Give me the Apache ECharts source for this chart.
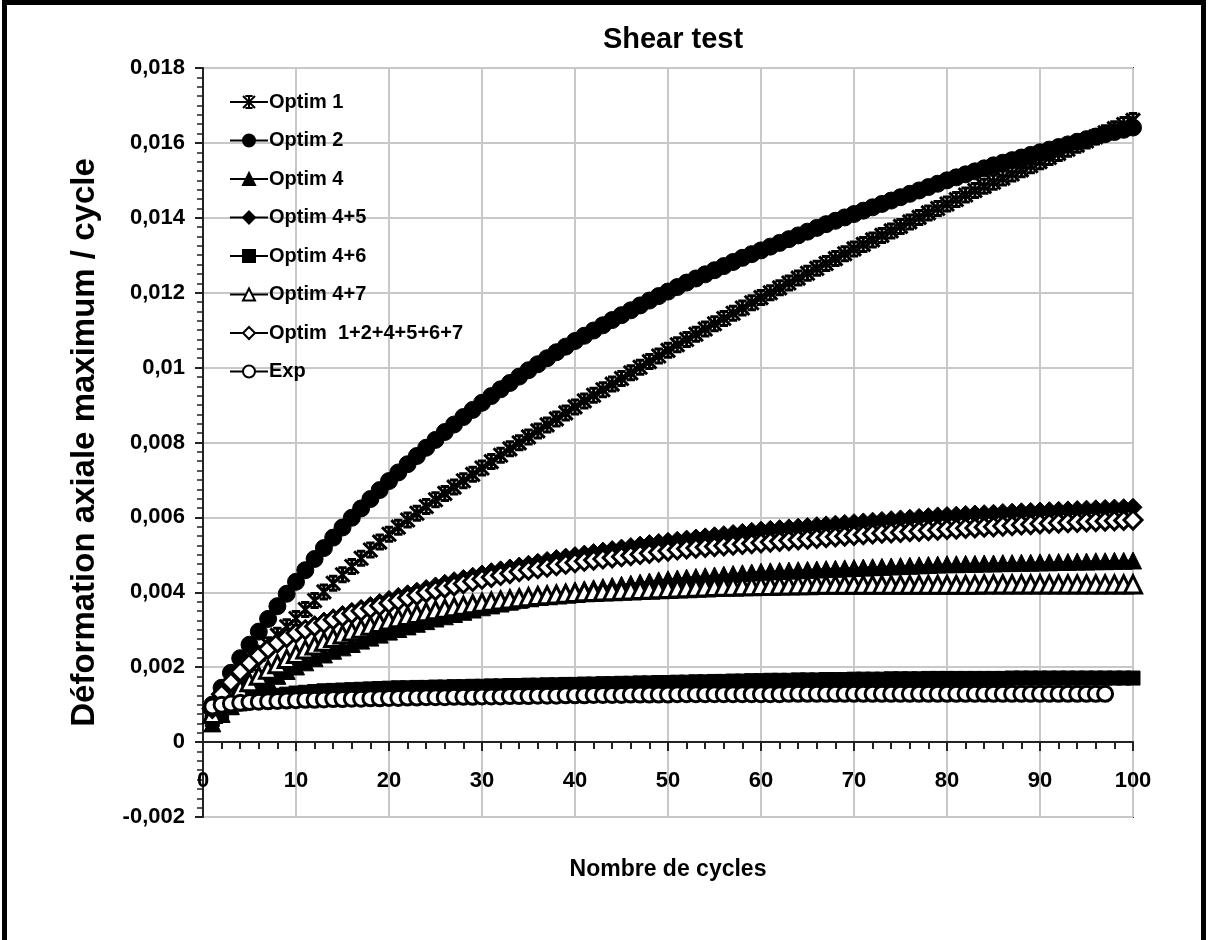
<!DOCTYPE html>
<html>
<head>
<meta charset="utf-8">
<script src="https://cdn.jsdelivr.net/npm/echarts@6/dist/echarts.min.js"></script>
<style>
  html, body { margin: 0; padding: 0; background: #fff; }
  #wrap { position: relative; width: 1208px; height: 940px; }
  #chart { width: 1208px; height: 940px; }
  #frame { position: absolute; left: 2px; top: 0; width: 1204px; height: 940px;
    border: 5px solid #000; border-bottom: none; box-sizing: border-box; pointer-events: none; }
</style>
</head>
<body>
<div id="wrap">
  <div id="chart"></div>
  <div id="frame"></div>
</div>
<script>
// cycle numbers (x)
var cycles = [1,2,3,4,5,6,7,8,9,10,11,12,13,14,15,16,17,18,19,20,
  21,22,23,24,25,26,27,28,29,30,31,32,33,34,35,36,37,38,39,40,
  41,42,43,44,45,46,47,48,49,50,51,52,53,54,55,56,57,58,59,60,
  61,62,63,64,65,66,67,68,69,70,71,72,73,74,75,76,77,78,79,80,
  81,82,83,84,85,86,87,88,89,90,91,92,93,94,95,96,97,98,99,100];

var seriesNames = ["Optim 1", "Optim 2", "Optim 4", "Optim 4+5", "Optim 4+6", "Optim 4+7", "Optim  1+2+4+5+6+7", "Exp"];

var optim1 = [0.00085,0.00118,0.00150,0.00180,0.00208,0.00235,0.00260,0.00285,0.00308,0.00330,
  0.00354,0.00378,0.00401,0.00424,0.00447,0.00469,0.00491,0.00513,0.00534,0.00555,
  0.00574,0.00593,0.00611,0.00629,0.00647,0.00664,0.00681,0.00698,0.00715,0.00732,
  0.00749,0.00766,0.00783,0.00799,0.00815,0.00831,0.00847,0.00863,0.00879,0.00895,
  0.00911,0.00926,0.00941,0.00956,0.00971,0.00986,0.01001,0.01016,0.01031,0.01046,
  0.01061,0.01075,0.01089,0.01103,0.01117,0.01131,0.01145,0.01159,0.01173,0.01187,
  0.01200,0.01213,0.01226,0.01239,0.01252,0.01265,0.01278,0.01291,0.01304,0.01317,
  0.01329,0.01341,0.01353,0.01365,0.01377,0.01389,0.01401,0.01413,0.01425,0.01437,
  0.01449,0.01461,0.01473,0.01484,0.01495,0.01506,0.01517,0.01528,0.01539,0.01550,
  0.01561,0.01572,0.01583,0.01594,0.01605,0.01616,0.01627,0.01638,0.01649,0.01660];

var optim2 = [0.00100,0.00145,0.00185,0.00224,0.00260,0.00295,0.00329,0.00363,0.00396,0.00428,
  0.00459,0.00489,0.00518,0.00546,0.00573,0.00599,0.00624,0.00649,0.00673,0.00697,
  0.00720,0.00742,0.00764,0.00786,0.00807,0.00828,0.00848,0.00868,0.00887,0.00906,
  0.00924,0.00942,0.00959,0.00976,0.00993,0.01009,0.01025,0.01041,0.01056,0.01071,
  0.01085,0.01099,0.01113,0.01127,0.01140,0.01153,0.01166,0.01179,0.01191,0.01203,
  0.01215,0.01227,0.01238,0.01249,0.01260,0.01271,0.01282,0.01293,0.01303,0.01313,
  0.01323,0.01333,0.01343,0.01353,0.01363,0.01373,0.01383,0.01392,0.01401,0.01410,
  0.01419,0.01428,0.01437,0.01446,0.01455,0.01464,0.01473,0.01482,0.01491,0.01500,
  0.01508,0.01516,0.01524,0.01532,0.01540,0.01547,0.01554,0.01561,0.01568,0.01575,
  0.01582,0.01589,0.01596,0.01603,0.01610,0.01617,0.01623,0.01629,0.01635,0.01641];

var optim4 = [0.00050,0.00075,0.00096,0.00115,0.00132,0.00148,0.00163,0.00177,0.00190,0.00202,
  0.00213,0.00224,0.00234,0.00244,0.00253,0.00262,0.00271,0.00279,0.00287,0.00295,
  0.00302,0.00309,0.00316,0.00323,0.00330,0.00336,0.00342,0.00348,0.00354,0.00360,
  0.00365,0.00370,0.00375,0.00380,0.00385,0.00389,0.00393,0.00397,0.00401,0.00405,
  0.00408,0.00411,0.00414,0.00417,0.00420,0.00423,0.00426,0.00429,0.00432,0.00435,
  0.00437,0.00439,0.00441,0.00443,0.00445,0.00447,0.00449,0.00451,0.00453,0.00455,
  0.00456,0.00457,0.00458,0.00459,0.00460,0.00461,0.00462,0.00463,0.00464,0.00465,
  0.00466,0.00467,0.00468,0.00469,0.00470,0.00471,0.00472,0.00473,0.00474,0.00475,
  0.00475,0.00476,0.00476,0.00477,0.00477,0.00478,0.00478,0.00479,0.00479,0.00480,
  0.00480,0.00481,0.00481,0.00482,0.00482,0.00483,0.00483,0.00484,0.00484,0.00485];

var optim45 = [0.00080,0.00120,0.00152,0.00180,0.00205,0.00226,0.00245,0.00262,0.00277,0.00290,
  0.00302,0.00313,0.00323,0.00332,0.00341,0.00349,0.00357,0.00365,0.00373,0.00381,
  0.00389,0.00396,0.00403,0.00410,0.00417,0.00424,0.00431,0.00437,0.00443,0.00449,
  0.00455,0.00460,0.00465,0.00470,0.00475,0.00480,0.00485,0.00490,0.00494,0.00498,
  0.00502,0.00506,0.00510,0.00514,0.00518,0.00522,0.00526,0.00530,0.00533,0.00536,
  0.00539,0.00542,0.00545,0.00548,0.00551,0.00554,0.00557,0.00560,0.00563,0.00566,
  0.00568,0.00570,0.00572,0.00574,0.00576,0.00578,0.00580,0.00582,0.00584,0.00586,
  0.00588,0.00590,0.00592,0.00594,0.00596,0.00598,0.00600,0.00602,0.00604,0.00605,
  0.00606,0.00608,0.00609,0.00610,0.00611,0.00613,0.00614,0.00615,0.00616,0.00617,
  0.00618,0.00619,0.00620,0.00621,0.00622,0.00623,0.00624,0.00625,0.00626,0.00627];

var optim46 = [0.00060,0.00078,0.00092,0.00102,0.00110,0.00116,0.00121,0.00125,0.00128,0.00131,
  0.00133,0.00135,0.00137,0.00138,0.00139,0.00140,0.00141,0.00142,0.00143,0.00144,
  0.00145,0.00145,0.00146,0.00146,0.00147,0.00147,0.00148,0.00148,0.00149,0.00149,
  0.00150,0.00150,0.00151,0.00151,0.00152,0.00152,0.00153,0.00153,0.00154,0.00154,
  0.00155,0.00155,0.00156,0.00156,0.00157,0.00157,0.00158,0.00158,0.00159,0.00159,
  0.00160,0.00160,0.00161,0.00161,0.00162,0.00162,0.00163,0.00163,0.00164,0.00164,
  0.00165,0.00165,0.00165,0.00166,0.00166,0.00166,0.00167,0.00167,0.00167,0.00168,
  0.00168,0.00168,0.00168,0.00169,0.00169,0.00169,0.00169,0.00170,0.00170,0.00170,
  0.00170,0.00170,0.00170,0.00170,0.00170,0.00170,0.00171,0.00171,0.00171,0.00171,
  0.00171,0.00171,0.00171,0.00171,0.00171,0.00171,0.00171,0.00171,0.00171,0.00171];

var optim47 = [0.00075,0.00100,0.00122,0.00142,0.00160,0.00177,0.00193,0.00208,0.00222,0.00235,
  0.00247,0.00258,0.00268,0.00278,0.00287,0.00295,0.00303,0.00311,0.00318,0.00325,
  0.00331,0.00337,0.00342,0.00347,0.00352,0.00356,0.00360,0.00364,0.00368,0.00372,
  0.00375,0.00378,0.00381,0.00384,0.00387,0.00390,0.00392,0.00394,0.00396,0.00398,
  0.00400,0.00401,0.00402,0.00403,0.00404,0.00405,0.00406,0.00407,0.00408,0.00409,
  0.00410,0.00411,0.00412,0.00413,0.00414,0.00415,0.00415,0.00416,0.00416,0.00417,
  0.00417,0.00418,0.00418,0.00419,0.00419,0.00420,0.00420,0.00420,0.00420,0.00420,
  0.00420,0.00420,0.00420,0.00420,0.00420,0.00420,0.00420,0.00420,0.00420,0.00420,
  0.00420,0.00420,0.00420,0.00421,0.00421,0.00421,0.00421,0.00421,0.00421,0.00421,
  0.00421,0.00421,0.00421,0.00421,0.00421,0.00421,0.00421,0.00421,0.00421,0.00421];

var optimAll = [0.00090,0.00128,0.00160,0.00188,0.00211,0.00231,0.00249,0.00265,0.00279,0.00291,
  0.00300,0.00309,0.00318,0.00327,0.00335,0.00343,0.00350,0.00357,0.00364,0.00371,
  0.00378,0.00385,0.00392,0.00399,0.00405,0.00411,0.00417,0.00423,0.00429,0.00435,
  0.00440,0.00445,0.00450,0.00455,0.00459,0.00463,0.00467,0.00471,0.00475,0.00479,
  0.00483,0.00486,0.00489,0.00492,0.00495,0.00498,0.00501,0.00504,0.00507,0.00510,
  0.00513,0.00516,0.00518,0.00520,0.00522,0.00524,0.00526,0.00528,0.00530,0.00532,
  0.00534,0.00536,0.00538,0.00540,0.00542,0.00544,0.00546,0.00548,0.00550,0.00552,
  0.00554,0.00556,0.00558,0.00559,0.00560,0.00562,0.00563,0.00565,0.00566,0.00568,
  0.00569,0.00571,0.00572,0.00574,0.00575,0.00577,0.00578,0.00580,0.00581,0.00583,
  0.00584,0.00585,0.00586,0.00587,0.00588,0.00589,0.00590,0.00591,0.00592,0.00593];

// experiment stops at cycle 97
var expData = [0.00095,0.00100,0.00103,0.00105,0.00107,0.00108,0.00109,0.00110,0.00111,0.00112,
  0.00113,0.00113,0.00114,0.00115,0.00115,0.00116,0.00116,0.00117,0.00117,0.00118,
  0.00118,0.00119,0.00119,0.00120,0.00120,0.00120,0.00121,0.00121,0.00121,0.00122,
  0.00122,0.00122,0.00123,0.00123,0.00123,0.00124,0.00124,0.00124,0.00125,0.00125,
  0.00125,0.00126,0.00126,0.00126,0.00126,0.00127,0.00127,0.00127,0.00127,0.00127,
  0.00128,0.00128,0.00128,0.00128,0.00128,0.00128,0.00128,0.00128,0.00128,0.00128,
  0.00128,0.00128,0.00129,0.00129,0.00129,0.00129,0.00129,0.00129,0.00129,0.00129,
  0.00129,0.00129,0.00129,0.00129,0.00129,0.00129,0.00129,0.00129,0.00129,0.00129,
  0.00129,0.00129,0.00129,0.00129,0.00129,0.00129,0.00129,0.00129,0.00129,0.00129,
  0.00129,0.00129,0.00129,0.00129,0.00129,0.00129,0.00129];

var FONT = "'Liberation Sans', Arial, sans-serif";
var STAR = "path://M0,0L10,10M10,0L0,10M5,0L5,10M2,0L8,0M2,10L8,10";

function pairs(values) {
  return values.map(function(v, i) { return [cycles[i], v]; });
}

function makeSeries(name, values, symbol, size, open) {
  return {
    name: name,
    type: "line",
    data: pairs(values),
    symbol: symbol,
    symbolSize: size,
    showAllSymbol: true,
    lineStyle: { color: "#000", width: 2 },
    itemStyle: open
      ? { color: "#fff", borderColor: "#000", borderWidth: 3 }
      : { color: "#000", borderColor: "#000", borderWidth: symbol === STAR ? 3 : 1 },
    emphasis: { disabled: true }
  };
}

var chart = echarts.init(document.getElementById("chart"));

var option = {
  animation: false,
  backgroundColor: "#fff",
  title: {
    text: "Shear test",
    left: 668,
    top: 20,
    textAlign: "center",
    textStyle: { fontFamily: FONT, fontSize: 29, fontWeight: "bold", color: "#000" }
  },
  legend: {
    data: seriesNames,
    orient: "vertical",
    left: 224,
    top: 87,
    itemGap: 18.5,
    itemWidth: 38,
    itemHeight: 15,
    selectedMode: false,
    textStyle: { fontFamily: FONT, fontSize: 20, fontWeight: "bold", color: "#000", padding: [0, 0, 0, -4] }
  },
  grid: {
    left: 203,
    right: 75,
    top: 68,
    bottom: 123,
    outerBoundsMode: "none",
    containLabel: false,
    show: true,
    borderColor: "#333",
    borderWidth: 2
  },
  xAxis: {
    type: "value",
    min: 0,
    max: 100,
    interval: 10,
    name: "Nombre de cycles",
    nameLocation: "middle",
    nameGap: 41,
    nameTextStyle: { fontFamily: FONT, fontSize: 23, fontWeight: "bold", color: "#000" },
    axisLine: { onZero: true, lineStyle: { color: "#222", width: 2 } },
    axisTick: { length: 9, lineStyle: { color: "#222", width: 2 } },
    minorTick: { show: true, splitNumber: 5, length: 7, lineStyle: { color: "#222", width: 2 } },
    axisLabel: { margin: -47, fontFamily: FONT, fontSize: 22, fontWeight: "bold", color: "#000" },
    splitLine: { show: true, lineStyle: { color: "#c8c8c8", width: 2 } }
  },
  yAxis: {
    type: "value",
    min: -0.002,
    max: 0.018,
    interval: 0.002,
    name: "Déformation axiale maximum / cycle",
    nameLocation: "middle",
    nameGap: 102,
    nameTextStyle: { fontFamily: FONT, fontSize: 33, fontWeight: "bold", color: "#000" },
    axisLine: { show: true, lineStyle: { color: "#222", width: 2 } },
    axisTick: { show: true, length: 8, lineStyle: { color: "#222", width: 2 } },
    minorTick: { show: true, splitNumber: 8, length: 6, lineStyle: { color: "#222", width: 1.5 } },
    axisLabel: {
      margin: 18,
      fontFamily: FONT,
      fontSize: 22,
      fontWeight: "bold",
      color: "#000",
      formatter: function(v) {
        return v === 0 ? "0" : String(parseFloat(v.toFixed(4))).replace(".", ",");
      }
    },
    splitLine: { show: true, lineStyle: { color: "#c8c8c8", width: 2 } }
  },
  series: [
    makeSeries(seriesNames[0], optim1, STAR, 14, false),
    makeSeries(seriesNames[1], optim2, "circle", 17, false),
    makeSeries(seriesNames[2], optim4, "triangle", 17, false),
    makeSeries(seriesNames[3], optim45, "diamond", 18, false),
    makeSeries(seriesNames[4], optim46, "rect", 14, false),
    makeSeries(seriesNames[5], optim47, "triangle", 17, true),
    makeSeries(seriesNames[6], optimAll, "diamond", 18, true),
    makeSeries(seriesNames[7], expData, "circle", 15, true)
  ]
};

chart.setOption(option);
</script>
</body>
</html>
